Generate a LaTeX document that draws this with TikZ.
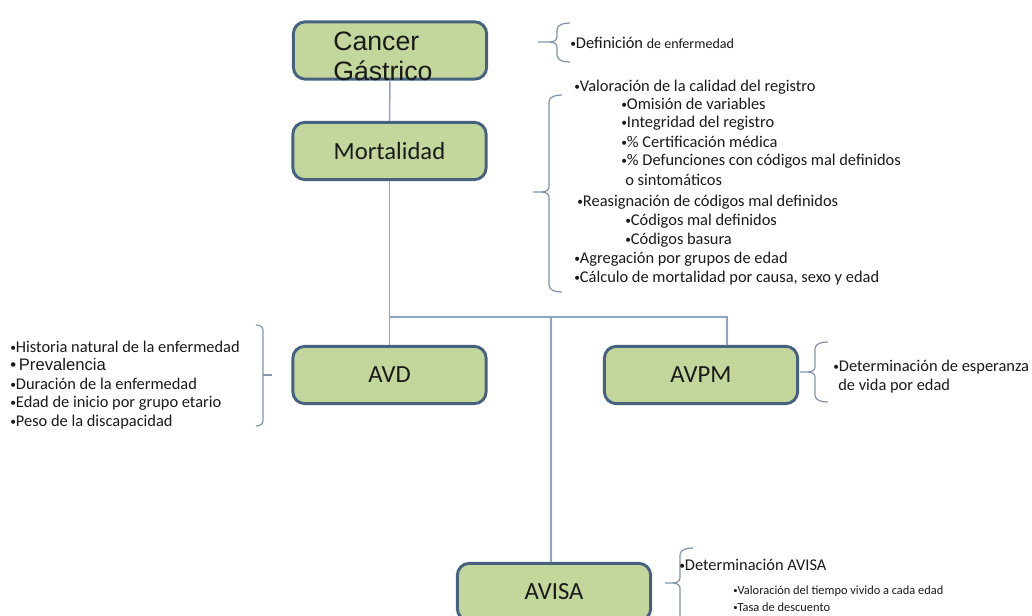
\documentclass[tikz,border=0pt]{standalone}
\usepackage{fontspec}
\setmainfont{Carlito}
\newfontfamily\arialf{Liberation Sans}
\definecolor{boxfill}{HTML}{C3D69B}
\definecolor{boxdraw}{HTML}{46627F}
\definecolor{linec}{HTML}{8FA4C2}
\definecolor{txt}{HTML}{1A1A1A}
\newcommand{\bul}{\raisebox{0.12ex}{\scalebox{0.7}{•}}}
\newcommand{\BrL}[5]{% xv, top, bot, tipx, midy : left brace (opens right)
  \draw[brace] (#1+13,#2) to[out=180,in=90] (#1,#2+7) -- (#1,#5-5) to[out=-90,in=0] (#1-7,#5) -- (#4,#5);
  \draw[brace] (#1-7,#5) to[out=0,in=90] (#1,#5+5) -- (#1,#3-7) to[out=-90,in=180] (#1+13,#3);}
\newcommand{\BrR}[5]{% xv, top, bot, tipx, midy : right brace (opens left)
  \draw[brace] (#1-7,#2) to[out=0,in=90] (#1,#2+5) -- (#1,#3-5) to[out=-90,in=0] (#1-7,#3);
  \draw[brace] (#1,#5) -- (#4,#5);}
\begin{document}
\begin{tikzpicture}[x=0.75pt,y=-0.75pt,
  box/.style={draw=boxdraw,line width=2.2pt,fill=boxfill,rounded corners=9pt,
    minimum width=145pt,minimum height=43pt,inner sep=0pt,text=txt,font=\fontsize{18.5}{20}\selectfont},
  conn/.style={draw=linec,line width=1.1pt},
  brace/.style={draw=linec!90!black,line width=0.9pt},
  item/.style={anchor=west,inner sep=0pt,text=txt,font=\fontsize{12.3}{14}\selectfont},
  small/.style={anchor=west,inner sep=0pt,text=txt,font=\fontsize{9.3}{11}\selectfont}]
\useasboundingbox (0,0) rectangle (1032,616);
\fill[white] (0,0) rectangle (1032,616);

% boxes
\node[box] (cg) at (390,50.5) {};
\node[anchor=north west,inner sep=0pt,align=left,text=txt,font=\arialf\fontsize{20}{22.5}\selectfont] (cgt) at (333,32) {Cancer\\Gástrico};
\node[box] (mort) at (389.5,151) {Mortalidad};
\node[box] (avd) at (389.5,375) {AVD};
\node[box] (avpm) at (701,375) {AVPM};
\node[box] (avisa) at (554,592) {AVISA};

% connectors
\coordinate (j) at (390,317);
\coordinate (k) at (727,317);
\coordinate (m) at (551,317);
\draw[conn] (cg.south) -- (mort.north);
\draw[conn] (mort.south) -- (avd.north);
\draw[conn] (j) -- (k) -- (k |- avpm.north);
\draw[conn] (m) -- (m |- avisa.north);

% braces
\BrL{557}{23}{62}{538}{42}
\BrL{549}{95}{292}{533}{192}
\BrR{263}{325}{426}{272}{375}
\BrL{815}{342}{402}{800}{372}
\BrL{680}{548}{640}{665}{583}

% Definición
\node[anchor=west,inner sep=0pt,text=txt] (d1) at (570,43) {\fontsize{12.3}{14}\selectfont \bul Definición \fontsize{10.5}{12}\selectfont de enfermedad};

% Mortalidad list
\node[item] (m1) at (574,87) {\bul Valoración de la calidad del registro};
\node[item] (m2) at (621,104) {\bul Omisión de variables};
\node[item] (m3) at (621,123) {\bul Integridad del registro};
\node[item] (m4) at (621,142) {\bul\% Certificación médica};
\node[item] (m5) at (621,161) {\bul\% Defunciones con códigos mal definidos};
\node[item] (m6) at (625,180) {o sintomáticos};
\node[item] (m7) at (577,202) {\bul Reasignación de códigos mal definidos};
\node[item] (m8) at (625,221) {\bul Códigos mal definidos};
\node[item] (m9) at (625,240) {\bul Códigos basura};
\node[item] (m10) at (574,259) {\bul Agregación por grupos de edad};
\node[item] (m11) at (574,278) {\bul Cálculo de mortalidad por causa, sexo y edad};

% AVD list
\node[item] (a1) at (10,347) {\bul Historia natural de la enfermedad};
\node[anchor=west,inner sep=0pt,text=txt,font=\arialf\fontsize{12.5}{14}\selectfont] (a2) at (10,365) {•\,Prevalencia};
\node[item] (a3) at (10,384) {\bul Duración de la enfermedad};
\node[item] (a4) at (10,403) {\bul Edad de inicio por grupo etario};
\node[item] (a5) at (10,422) {\bul Peso de la discapacidad};

% AVPM list
\node[item] (p1) at (833,367) {\bul Determinación de esperanza};
\node[item] (p2) at (838,386) {de vida por edad};

% AVISA list
\node[item] (v1) at (679,565) {\bul Determinación AVISA};
\node[small] (v2) at (733,591) {\bul Valoración del tiempo vivido a cada edad};
\node[small] (v3) at (733,607) {\bul Tasa de descuento};
\end{tikzpicture}
\end{document}
